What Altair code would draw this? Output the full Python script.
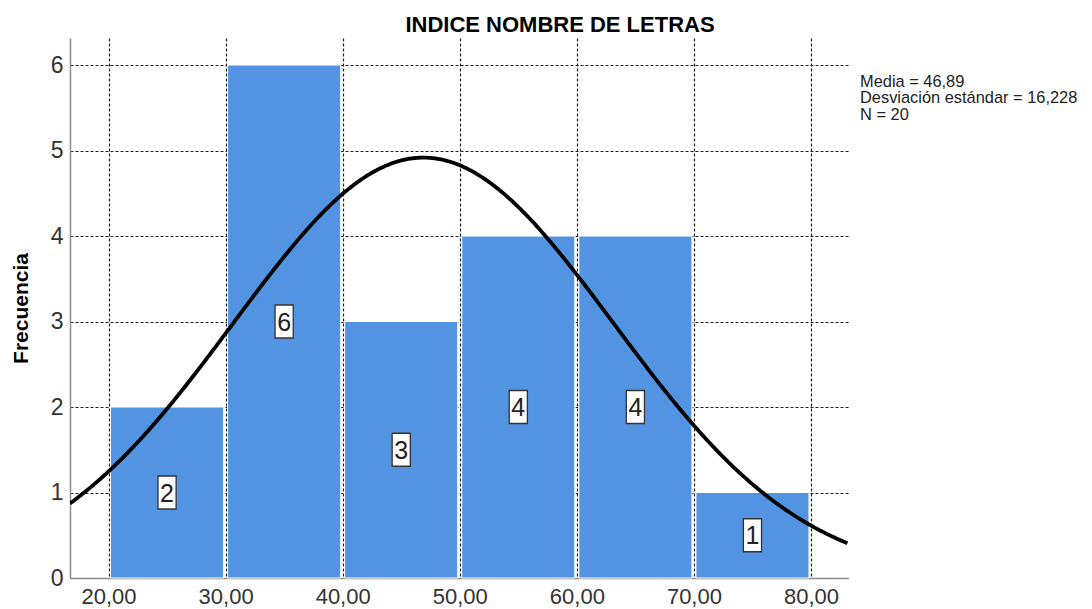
import altair as alt
import pandas as pd

# ---- data ----
bin_start = [20, 30, 40, 50, 60, 70]
bin_end = [30, 40, 50, 60, 70, 80]
counts = [2, 6, 3, 4, 4, 1]
x_ticks = [20, 30, 40, 50, 60, 70, 80]
y_ticks = [0, 1, 2, 3, 4, 5, 6]
mean_val = 46.89
sd_val = 16.228
n_val = 20
bin_width = 10
stats_lines = ["Media = 46,89", "Desviación estándar = 16,228", "N = 20"]
title_text = "INDICE NOMBRE DE LETRAS"
y_title = "Frecuencia"
x_domain = [16.71, 83.16]
y_domain = [0, 6.316]

NARROW = "Liberation Sans Narrow, Arial Narrow, Liberation Sans, Arial"
SANS = "Liberation Sans, Arial"

df = pd.DataFrame({"start": bin_start, "end": bin_end, "count": counts})
df["mid"] = (df["start"] + df["end"]) / 2
df["half"] = df["count"] / 2

xscale = alt.Scale(domain=x_domain, nice=False, zero=False)
yscale = alt.Scale(domain=y_domain, nice=False, zero=False)

grid_kw = dict(grid=True, gridDash=[3, 2], gridColor="#222222", gridWidth=1.2, gridOpacity=1,
               domainColor="#8c8c8c", domainWidth=1.5, ticks=False,
               labelFont=NARROW, labelColor="#333333", labelOverlap=False)

x_axis = alt.Axis(values=x_ticks,
                  labelExpr="replace(format(datum.value, '.2f'), '.', ',')",
                  labelFontSize=22, labelPadding=8, labelFlush=False, **grid_kw)
y_axis = alt.Axis(values=y_ticks, format="d", labelFontSize=23, labelPadding=7,
                  titleFont=SANS, titleFontWeight="bold", titleFontSize=21,
                  titleColor="black", titleAngle=270, titleX=-49, titleY=270,
                  titleAlign="center", titleBaseline="middle", **grid_kw)


def X(field):
    return alt.X(field, scale=xscale, axis=x_axis, title=None)


def Y(field):
    return alt.Y(field, scale=yscale, axis=y_axis, title=y_title)


base = alt.Chart(df)

bars = base.mark_rect(color="#5294e2", stroke="white", strokeWidth=1,
                      xOffset=2, x2Offset=-2).encode(
    x=X("start:Q"),
    x2="end:Q",
    y=Y("count:Q"),
    y2=alt.datum(0),
)

curve = alt.Chart(alt.sequence(x_domain[0], x_domain[1] + 0.05, 0.1, as_="x")).transform_calculate(
    y=f"{n_val * bin_width}/({sd_val}*sqrt(2*PI))*exp(-0.5*pow((datum.x-{mean_val})/{sd_val},2))"
).mark_line(color="black", strokeWidth=3.8, clip=True).encode(
    x=X("x:Q"),
    y=Y("y:Q"),
)

boxes = base.mark_point(shape="M-0.55,-1L0.55,-1L0.55,1L-0.55,1Z", size=1089, filled=True,
                        fill="white", stroke="#333333", strokeWidth=1.3,
                        opacity=1, fillOpacity=1, strokeOpacity=1).encode(
    x=X("mid:Q"),
    y=Y("half:Q"),
)

box_text = base.mark_text(font=NARROW, fontSize=25, color="#222222", baseline="middle", dy=1).encode(
    x=X("mid:Q"),
    y=Y("half:Q"),
    text=alt.Text("count:Q"),
)

one = pd.DataFrame({"k": [0]})
stats = alt.Chart(one).mark_text(text=stats_lines, lineHeight=16.7, align="left",
                                 baseline="alphabetic", font=SANS, fontSize=16.4,
                                 color="#222222").encode(x=alt.value(790), y=alt.value(48.7))

title = alt.Chart(one).mark_text(text=title_text, font=SANS, fontWeight="bold", fontSize=22,
                                 align="center", baseline="alphabetic",
                                 color="black").encode(x=alt.value(490), y=alt.value(-6))

chart = alt.layer(bars, curve, boxes, box_text, stats, title).properties(
    width=778, height=540,
    autosize=alt.AutoSizeParams(type="none"),
    padding={"left": 62, "top": 30, "right": 234, "bottom": 34},
).configure_view(stroke=None)

chart.save("out.html", embed_options={"renderer": "svg", "actions": False})
